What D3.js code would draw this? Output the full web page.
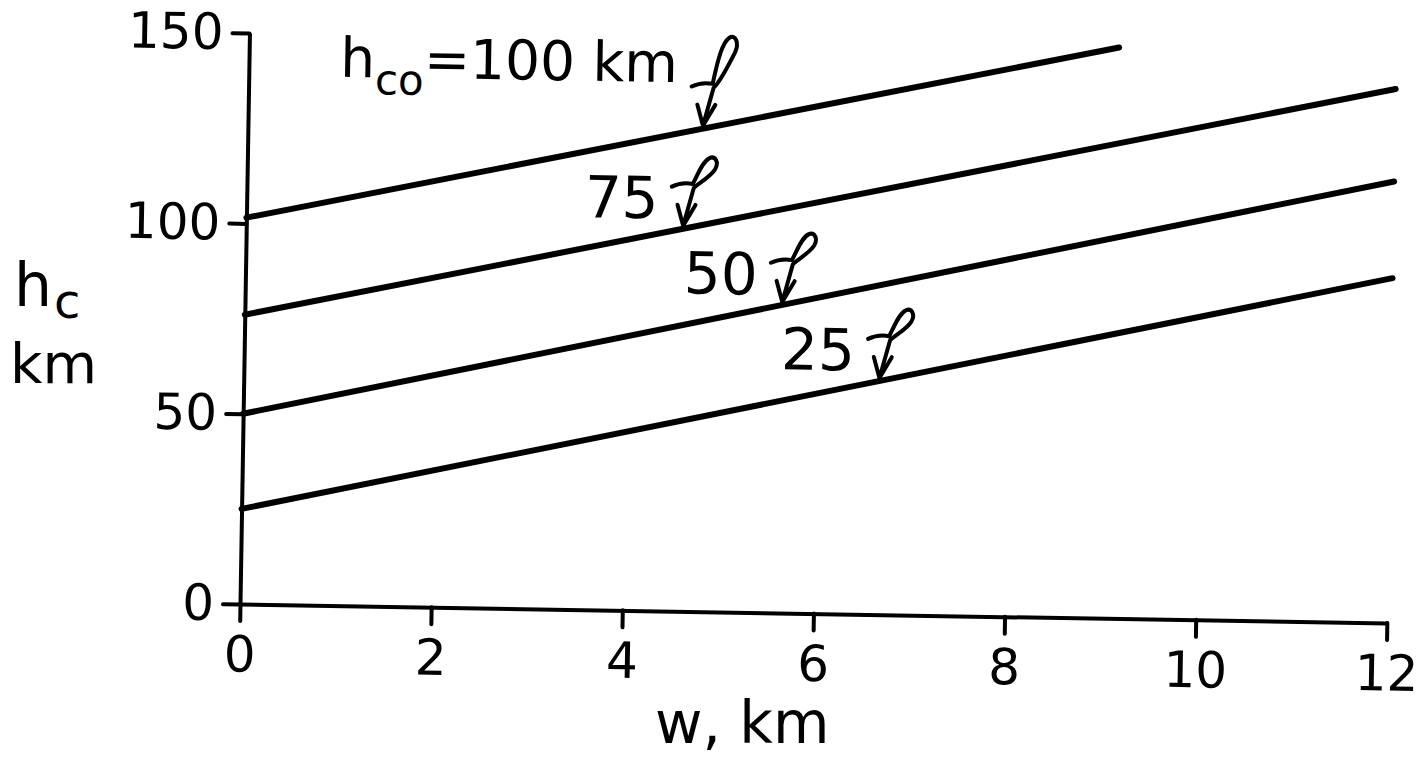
<!DOCTYPE html>
<html>
<head>
<meta charset="utf-8">
<script src="https://cdn.jsdelivr.net/npm/d3@7"></script>
<style>
  html, body { margin: 0; padding: 0; background: #fff; }
  svg { display: block; }
  text { font-family: "DejaVu Sans", sans-serif; fill: #000; }
</style>
</head>
<body>
<svg id="chart" width="1428" height="759"></svg>
<script>
// ---- data ----
const hco      = [100, 75, 50, 25];          // curve parameter h_co (km)
const wStart   = [0, 0, 0, 0];               // w at line start (km)
const hStart   = [101.5, 76, 50, 25];        // h_c at line start (km)
const wEnd     = [9.1, 12, 12, 12];          // w at line end (km)
const hEnd     = [150, 140.3, 116, 90.6];    // h_c at line end (km)
const labelW   = [4.76, 4.57, 5.62, 6.65];   // w where each label arrow points
const labelTxt = ["100 km", "75", "50", "25"];
const xTicks   = [0, 2, 4, 6, 8, 10, 12];
const yTicks   = [0, 50, 100, 150];

// ---- layout ----
const svg = d3.select("#chart");
svg.append("rect").attr("width", 1428).attr("height", 759).attr("fill", "#fff");

const x = d3.scaleLinear().domain([0, 12]).range([240, 1387]);
const y = d3.scaleLinear().domain([0, 150]).range([604, 33]);

// scanned figure is slightly rotated
const g = svg.append("g").attr("transform", "rotate(0.95, 240, 604)");

// axes
const xAxis = d3.axisBottom(x).tickValues(xTicks).tickSize(17).tickSizeOuter(0).tickPadding(15)
  .tickFormat(d3.format("d"));
const yAxis = d3.axisLeft(y).tickValues(yTicks).tickSize(17).tickSizeOuter(0).tickPadding(9)
  .tickFormat(d3.format("d"));

const gx = g.append("g").attr("transform", `translate(0,${y(0)})`).call(xAxis);
const gy = g.append("g").attr("transform", `translate(${x(0)},0)`).call(yAxis);

[gx, gy].forEach(a => {
  a.select(".domain").attr("stroke", "#000").attr("stroke-width", 4);
  a.selectAll(".tick line").attr("stroke", "#000").attr("stroke-width", 4).attr("stroke-linecap", "round");
  a.selectAll(".tick text").attr("font-family", "DejaVu Sans, sans-serif").attr("font-size", 50).attr("fill", "#000");
});

// data lines
const lineGen = d3.line().x(d => x(d[0])).y(d => y(d[1]));
hco.forEach((h, i) => {
  g.append("path")
    .attr("d", lineGen([[wStart[i], hStart[i]], [wEnd[i], hEnd[i]]]))
    .attr("fill", "none").attr("stroke", "#000").attr("stroke-width", 6)
    .attr("stroke-linecap", "round");
});

// script-l leader arrows with labels
function ellPath(s) {
  // tip at (0,0); s stretches the upper loop vertically
  return `M -12,-39 Q -2,-44 9,-42 ` +
         `C 14,${-52*s} 18,${-64*s} 25,${-68*s} ` +
         `C 31,${-71*s} 35,${-64*s} 31,${-57*s} ` +
         `C 26,${-49*s} 16,-44 10,-38 L 0,0 ` +
         `M -6,-21 L 0,0 L 12,-21`;
}
hco.forEach((h, i) => {
  const t = (labelW[i] - wStart[i]) / (wEnd[i] - wStart[i]);
  const hv = hStart[i] + t * (hEnd[i] - hStart[i]);
  const tx = x(labelW[i]), ty = y(hv) - 3;
  const s = i === 0 ? 1.3 : 1.0;
  g.append("path")
    .attr("d", ellPath(s))
    .attr("transform", `translate(${tx},${ty})`)
    .attr("fill", "none").attr("stroke", "#000").attr("stroke-width", 4)
    .attr("stroke-linecap", "round").attr("stroke-linejoin", "round");

  if (i === 0) {
    const txt = g.append("text")
      .attr("x", tx - 26).attr("y", ty - 43)
      .attr("text-anchor", "end").attr("font-size", 55);
    txt.append("tspan").text("h");
    txt.append("tspan").attr("font-size", 42).attr("dy", 17).text("co");
    txt.append("tspan").attr("dy", -17).text("=" + labelTxt[i]);
  } else {
    g.append("text")
      .attr("x", tx - 25).attr("y", ty - 7)
      .attr("text-anchor", "end").attr("font-size", 58)
      .text(labelTxt[i]);
  }
});

// axis titles
const yt = svg.append("text").attr("x", 14).attr("y", 306).attr("font-size", 60);
yt.append("tspan").text("h");
yt.append("tspan").attr("font-size", 48).attr("dy", 12).attr("dx", 2).text("c");
yt.append("tspan").attr("x", 10).attr("dy", 65).attr("font-size", 56).text("km");

svg.append("text").attr("x", 655).attr("y", 743).attr("font-size", 58).text("w, km");
</script>
</body>
</html>
